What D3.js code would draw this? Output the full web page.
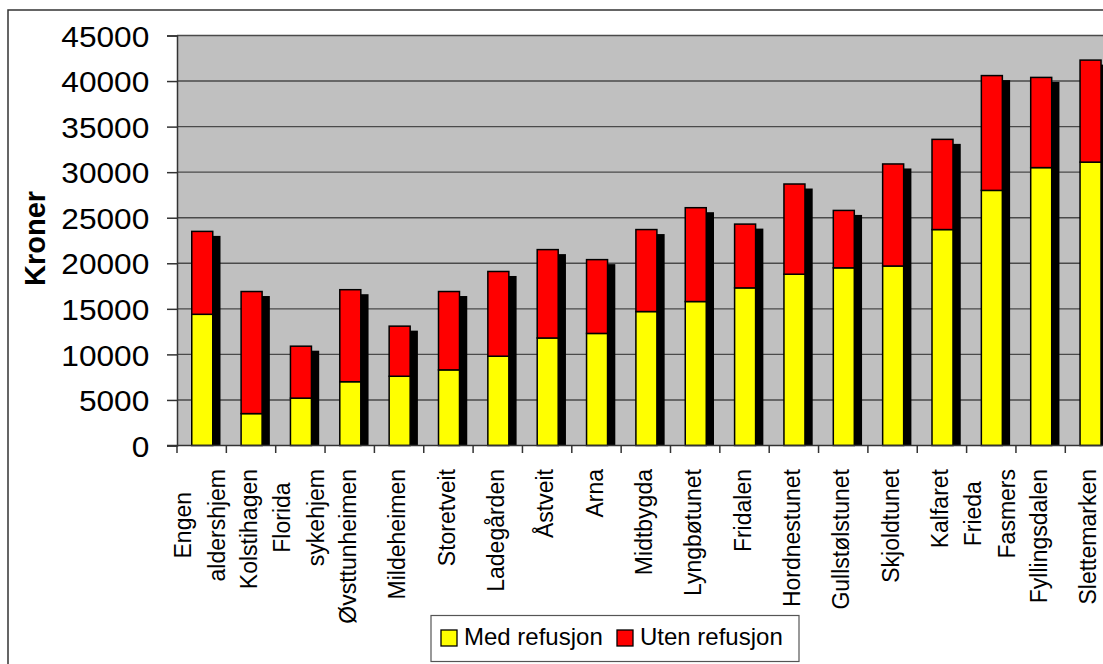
<!DOCTYPE html>
<html><head><meta charset="utf-8">
<script src="https://cdn.jsdelivr.net/npm/d3@7"></script>
<style>
body{margin:0;background:#fff}
svg{display:block}
text{font-family:"Liberation Sans",Arial,Helvetica,sans-serif;fill:#000}
</style>
</head><body>
<svg id="chart" width="1103" height="664"></svg>
<script>
// ---- data ----
const categories = ["Engen\naldershjem","Kolstihagen","Florida\nsykehjem","Øvsttunheimen","Mildeheimen","Storetveit","Ladegården","Åstveit","Arna","Midtbygda","Lyngbøtunet","Fridalen","Hordnestunet","Gullstølstunet","Skjoldtunet","Kalfaret","Frieda\nFasmers","Fyllingsdalen","Slettemarken"];
const medRefusjon  = [14400, 3500, 5200, 7000, 7600, 8300, 9800, 11800, 12300, 14700, 15800, 17300, 18800, 19500, 19700, 23700, 28000, 30500, 31100];
const utenRefusjon = [ 9100,13400, 5700,10100, 5500, 8600, 9300,  9700,  8100,  9000, 10300,  7000,  9900,  6300, 11200,  9900, 12600,  9900, 11200];
const seriesNames = ["Med refusjon","Uten refusjon"];
const seriesColors = ["#FFFF00","#FF0000"];
const yTicks = [0,5000,10000,15000,20000,25000,30000,35000,40000,45000];
const yTitle = "Kroner";

// ---- layout ----
const svg = d3.select("#chart");
const plotL = 177, plotT = 35.5, plotB = 445.5, step = 49.35;
const plotR = plotL + step*categories.length;

const x = d3.scaleBand().domain(categories).range([plotL, plotR]).padding(0);
const y = d3.scaleLinear().domain([0,45000]).range([plotB, plotT]);

const rows = categories.map((c,i)=>({cat:c, med:medRefusjon[i], uten:utenRefusjon[i]}));
const stack = d3.stack().keys(["med","uten"]);
const stacked = stack(rows);

// outer border
svg.append("path").attr("d","M8,664V10H1103").attr("fill","none").attr("stroke","#333").attr("stroke-width",1.5);

// plot background
svg.append("rect").attr("x",plotL).attr("y",plotT).attr("width",plotR-plotL).attr("height",plotB-plotT).attr("fill","#C0C0C0");

// gridlines
svg.append("g").selectAll("line").data(yTicks.filter(d=>d>0)).join("line")
  .attr("x1",plotL).attr("x2",plotR).attr("y1",d=>y(d)).attr("y2",d=>y(d))
  .attr("stroke","#4a4a4a").attr("stroke-width",1.4);

// bars
const bw = 22.5, bOff = 14;
const sh = 1.5;
// shadows
svg.append("g").selectAll("rect").data(rows).join("rect")
  .attr("x",d=>x(d.cat)+bOff+7).attr("y",d=>y(d.med+d.uten)+4.5)
  .attr("width",bw).attr("height",d=>plotB - y(d.med+d.uten) - 4.5)
  .attr("fill","#000");

svg.append("g").selectAll("g").data(stacked).join("g")
  .attr("fill",(d,i)=>seriesColors[i])
  .selectAll("rect").data(d=>d).join("rect")
  .attr("x",d=>x(d.data.cat)+bOff+sh/2)
  .attr("y",d=>y(d[1]))
  .attr("width",bw-sh)
  .attr("height",d=>y(d[0])-y(d[1]))
  .attr("stroke","#000").attr("stroke-width",sh);

// y axis
const yAxis = svg.append("g").attr("transform",`translate(${plotL},0)`)
  .call(d3.axisLeft(y).tickValues(yTicks).tickSize(10).tickFormat(d3.format("d")));
yAxis.select(".domain").attr("stroke","#333").attr("stroke-width",1.5);
yAxis.selectAll(".tick line").attr("stroke","#333").attr("stroke-width",1.5);
yAxis.selectAll(".tick text").attr("x",null).attr("dy",null)
  .attr("font-size",30).attr("text-anchor","end")
  .attr("transform","translate(-27.7,10.7) scale(1.055,1)");

// x axis line and ticks at category boundaries
svg.append("line").attr("x1",plotL-10).attr("x2",plotR).attr("y1",plotB).attr("y2",plotB)
  .attr("stroke","#333").attr("stroke-width",1.5);
svg.append("g").selectAll("line").data(categories.map(c=>x(c)).concat([plotR])).join("line")
  .attr("x1",d=>d).attr("x2",d=>d).attr("y1",plotB).attr("y2",plotB+7.5)
  .attr("stroke","#333").attr("stroke-width",1.5);

// x labels
const labelTop = 469, lineGap = 34, fsX = 23;
const lg = svg.append("g");
categories.forEach(c=>{
  const lines = c.split("\n");
  const cx = x(c) + x.bandwidth()/2;
  const g = lg.append("g");
  const texts = lines.map(l=>g.append("text").attr("font-size",fsX).attr("text-anchor","middle").text(l));
  const maxW = d3.max(texts, t=>t.node().getComputedTextLength());
  texts.forEach((t,j)=>{
    const xo = cx - 2 + (j-(lines.length-1)/2)*lineGap + 0.358*fsX;
    t.attr("transform",`translate(${xo},${labelTop+maxW/2}) rotate(-90)`);
  });
});

// y title
svg.append("text").attr("font-size",29).attr("font-weight","bold").attr("text-anchor","middle")
  .attr("transform","translate(44.5,238.5) rotate(-90)").text(yTitle);

// legend
const leg = svg.append("g");
leg.append("rect").attr("x",431).attr("y",615.5).attr("width",368).attr("height",46)
  .attr("fill","#fff").attr("stroke","#555").attr("stroke-width",1.2);
const legX = [441, 617];
seriesNames.forEach((n,i)=>{
  leg.append("rect").attr("x",legX[i]).attr("y",630).attr("width",16).attr("height",16)
    .attr("fill",seriesColors[i]).attr("stroke","#000").attr("stroke-width",1.3);
  leg.append("text").attr("x",legX[i]+23).attr("y",645).attr("font-size",24).text(n);
});
</script>
</body></html>
